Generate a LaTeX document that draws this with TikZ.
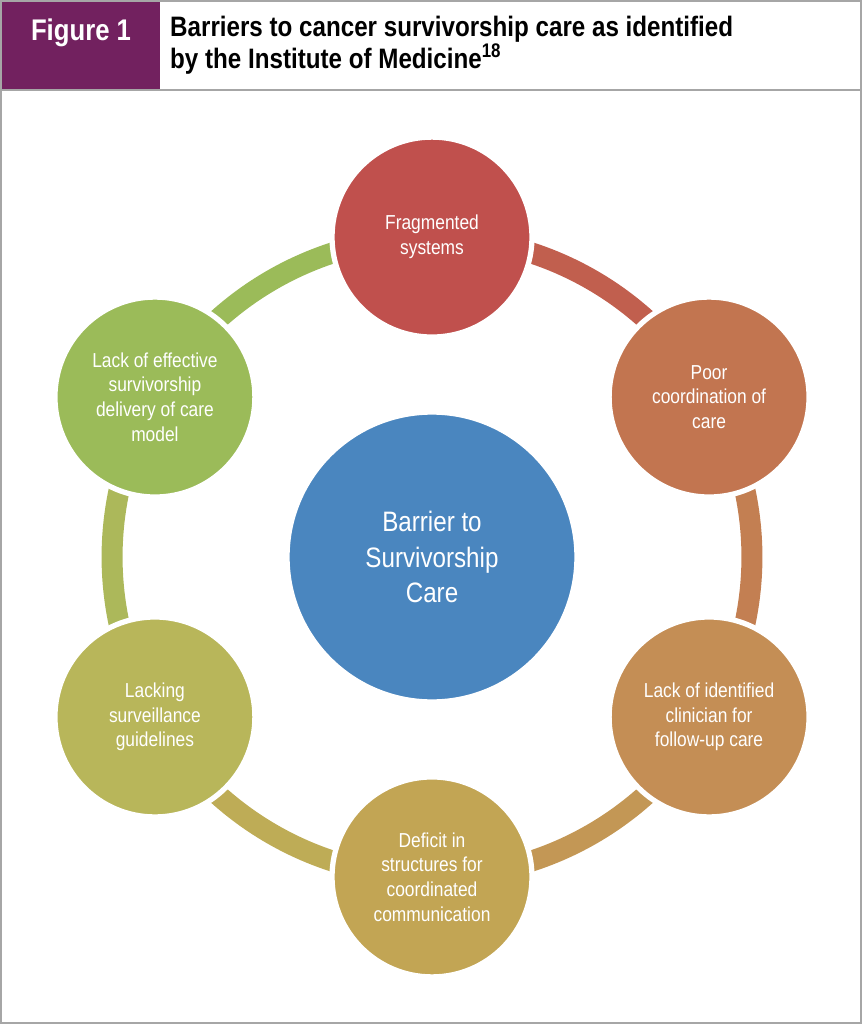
\documentclass[tikz,border=0pt]{standalone}
\usepackage{fontspec}
\setmainfont{Liberation Sans}
\newfontfamily\condfont[FakeStretch=0.86]{Liberation Sans}
\usetikzlibrary{positioning,calc}

\definecolor{figpurple}{HTML}{72215F}
\definecolor{cRed}{HTML}{C0504D}
\definecolor{cOrange}{HTML}{C27550}
\definecolor{cTan}{HTML}{C48E55}
\definecolor{cGold}{HTML}{C2A554}
\definecolor{cOlive}{HTML}{B8B65A}
\definecolor{cGreen}{HTML}{9BBB59}
\definecolor{cBlue}{HTML}{4A86BF}

\tikzset{
  barrier/.style={circle, draw=white, line width=3pt, minimum size=4cm, inner sep=0pt,
    text=white, align=center, font=\condfont\fontsize{11.5}{14}\selectfont},
  ringseg/.style={line width=0.42cm}
}

\begin{document}
\begin{tikzpicture}[x=0.02cm,y=-0.02cm]
\useasboundingbox (0,0) rectangle (862,1024);

% Frame and header
\draw[gray!70, line width=1.2pt] (1,1) rectangle (861,1023);
\fill[figpurple] (2,2) rectangle (160,89);
\draw[gray!70, line width=1.2pt] (1,90) -- (861,90);
\node[text=white, font=\condfont\bfseries\fontsize{17}{20}\selectfont] (fig) at (81,33) {Figure 1};
\node[anchor=north west, align=left, font=\condfont\bfseries\fontsize{16}{18}\selectfont] (title) at (164,10)
  {Barriers to cancer survivorship care as identified\\by the Institute of Medicine\textsuperscript{18}};

% Centre
\coordinate (c) at (432,557);

% Ring
\foreach \a/\b/\col in {90/30/cRed!60!cOrange, 30/-30/cOrange!60!cTan, -30/-90/cTan!60!cGold,
    -90/-150/cGold!60!cOlive, 210/150/cOlive!60!cGreen, 150/90/cGreen}
  \draw[ringseg, \col] ([shift={(\a:6.4cm)}]c) arc[start angle=\a, end angle=\b, radius=6.4cm];

% Outer circles
\node[barrier, fill=cRed] (frag) at ([shift={(90:6.4cm)}]c) {Fragmented\\systems};
\node[barrier, fill=cOrange] (poor) at ([shift={(30:6.4cm)}]c) {Poor\\coordination of\\care};
\node[barrier, fill=cTan] (clin) at ([shift={(-30:6.4cm)}]c) {Lack of identified\\clinician for\\follow-up care};
\node[barrier, fill=cGold] (defi) at ([shift={(-90:6.4cm)}]c) {Deficit in\\structures for\\coordinated\\communication};
\node[barrier, fill=cOlive] (surv) at ([shift={(210:6.4cm)}]c) {Lacking\\surveillance\\guidelines};
\node[barrier, fill=cGreen] (model) at ([shift={(150:6.4cm)}]c) {Lack of effective\\survivorship\\delivery of care\\model};

% Centre circle
\node[barrier, fill=cBlue, minimum size=5.8cm, font=\condfont\fontsize{16}{20}\selectfont] (core) at (c)
  {Barrier to\\Survivorship\\Care};
\end{tikzpicture}
\end{document}
